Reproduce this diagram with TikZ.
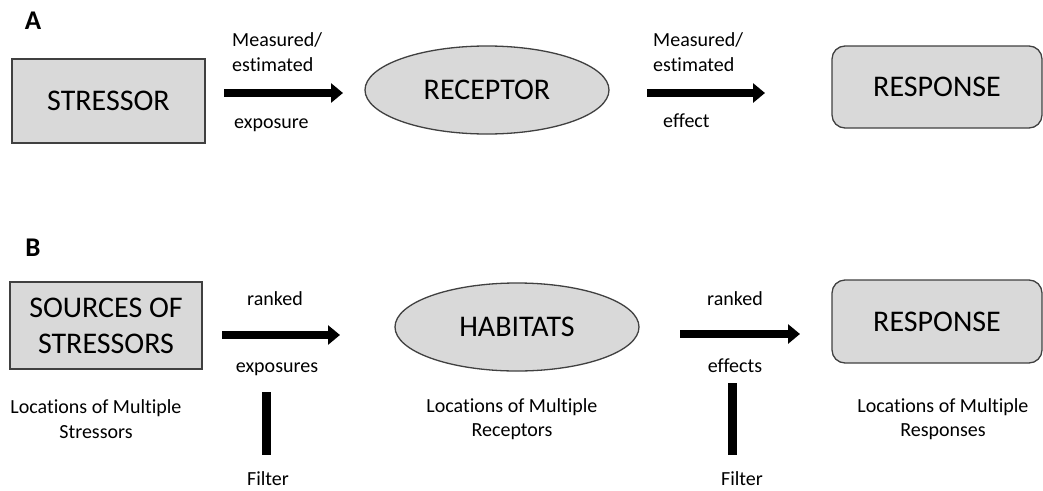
\documentclass[tikz,border=0pt]{standalone}
\usepackage{fontspec}
\setmainfont{Carlito}[Ligatures=NoCommon]
\usetikzlibrary{shapes.geometric,arrows.meta}
\definecolor{boxfill}{HTML}{D9D9D9}
\definecolor{boxline}{HTML}{404040}
\begin{document}
\begin{tikzpicture}[x=1pt,y=-1pt,
  bigtext/.style={font=\fontsize{30}{36}\selectfont},
  smalltext/.style={font=\fontsize{20}{24.5}\selectfont, inner sep=0pt},
  panel/.style={font=\fontsize{27}{30}\selectfont\bfseries, inner sep=0pt},
  sqbox/.style={rectangle, draw=boxline, fill=boxfill, line width=1.3pt, inner sep=0pt, bigtext, align=center},
  rbox/.style={sqbox, rounded corners=13pt},
  oval/.style={ellipse, draw=boxline, fill=boxfill, line width=1.3pt, inner sep=0pt,
    minimum width=244pt, minimum height=88pt, bigtext},
  fatarrow/.style={line width=8pt, -{Triangle[length=12pt,width=19pt]}},
  filterbar/.style={line width=9pt},
]
\useasboundingbox (0,0) rectangle (1043,490);

% ---------- Panel A ----------
\node[panel] (labA) at (33,21) {A};
\node[sqbox, minimum width=193pt, minimum height=84pt] (stressor) at (108.5,101) {STRESSOR};
\node[oval] (receptor) at (487,90) {RECEPTOR};
\node[rbox, minimum width=210pt, minimum height=82pt] (respA) at (937,87) {RESPONSE};

\coordinate (a1s) at (224,93);
\coordinate (a1e) at (343,93);
\coordinate (a2s) at (647,93);
\coordinate (a2e) at (765,93);
\draw[fatarrow] (a1s) -- (a1e);
\draw[fatarrow] (a2s) -- (a2e);

\node[smalltext, anchor=west, align=left] (meas1) at (232,52) {Measured/\\estimated};
\node[smalltext, anchor=west] (expo) at (234,125) {exposure};
\node[smalltext, anchor=west, align=left] (meas2) at (653,52) {Measured/\\estimated};
\node[smalltext, anchor=west] (eff) at (663,121) {effect};

% ---------- Panel B ----------
\node[panel] (labB) at (33,248) {B};
\node[sqbox, minimum width=192pt, minimum height=87pt] (sources) at (106,325.5) {SOURCES OF\\STRESSORS};
\node[oval] (habitats) at (517,327) {HABITATS};
\node[rbox, minimum width=210pt, minimum height=83pt] (respB) at (937,321.5) {RESPONSE};

\coordinate (b1s) at (222,335);
\coordinate (b1e) at (340,335);
\coordinate (b2s) at (680,334);
\coordinate (b2e) at (800,334);
\draw[fatarrow] (b1s) -- (b1e);
\draw[fatarrow] (b2s) -- (b2e);

\node[smalltext] (rank1) at (275,299) {ranked};
\node[smalltext] (expos) at (277,369) {exposures};
\node[smalltext] (rank2) at (735,299) {ranked};
\node[smalltext] (effs) at (735,366) {effects};

\coordinate (f1t) at (266.5,392);
\coordinate (f1b) at (266.5,455);
\coordinate (f2t) at (732.5,383);
\coordinate (f2b) at (732.5,455);
\draw[filterbar] (f1t) -- (f1b);
\draw[filterbar] (f2t) -- (f2b);
\node[smalltext] (filt1) at (268,479) {Filter};
\node[smalltext] (filt2) at (742,479) {Filter};

\node[smalltext, align=center] (locS) at (96,419) {Locations of Multiple\\Stressors};
\node[smalltext, align=center] (locR) at (512,419) {Locations of Multiple\\Receptors};
\node[smalltext, align=center] (locP) at (943,419) {Locations of Multiple\\Responses};
\end{tikzpicture}
\end{document}
